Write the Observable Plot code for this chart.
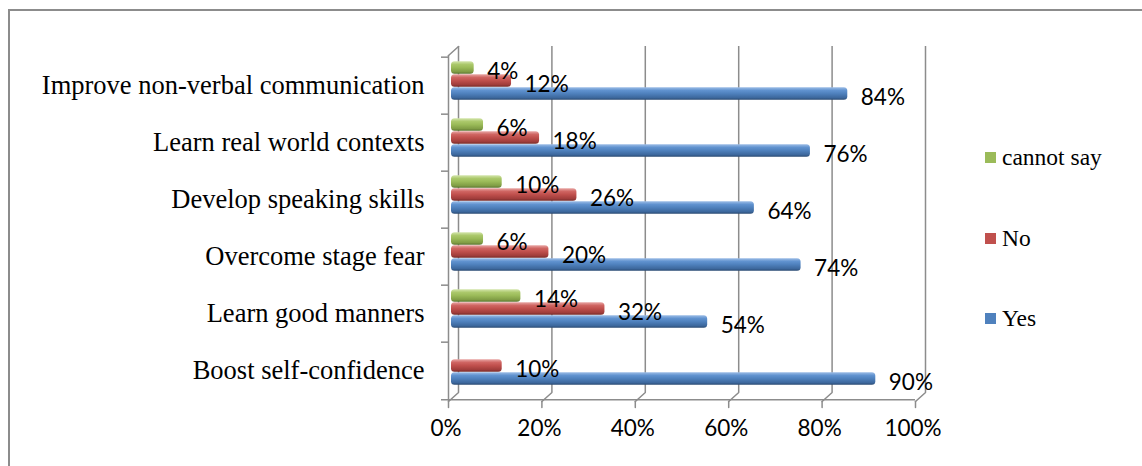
<!DOCTYPE html>
<html>
<head>
<meta charset="utf-8">
<script src="https://cdn.jsdelivr.net/npm/d3@7"></script>
<script src="https://cdn.jsdelivr.net/npm/@observablehq/plot@0.6"></script>
<style>
  html, body { margin: 0; padding: 0; background: #fff; }
  #wrap { position: relative; width: 1142px; height: 466px; overflow: hidden; }
  #border { position: absolute; left: 8px; top: 9px; width: 1200px; height: 500px;
            border-left: 2px solid #8c8c8c; border-top: 2px solid #8c8c8c; box-sizing: border-box; }
  #chart { position: absolute; left: 0; top: 0; }
  #legend { position: absolute; left: 985px; top: 0; }
</style>
</head>
<body>
<div id="wrap">
  <div id="border"></div>
  <div id="chart"></div>
  <div id="legend"></div>
</div>
<script>
const categories = [
  "Improve non-verbal communication",
  "Learn real world contexts",
  "Develop speaking skills",
  "Overcome stage fear",
  "Learn good manners",
  "Boost self-confidence"
];
const series = ["cannot say", "No", "Yes"];
const yesValues = [84, 76, 64, 74, 54, 90];
const noValues = [12, 18, 26, 20, 32, 10];
const cannotSayValues = [4, 6, 10, 6, 14, 0];
const xTicks = [0, 20, 40, 60, 80, 100];
const seriesColors = ["#9BBB59", "#C0504D", "#4F81BD"];

const valuesBySeries = {"cannot say": cannotSayValues, "No": noValues, "Yes": yesValues};
const table = categories.flatMap((c, i) => series.map(s => ({category: c, series: s, value: valuesBySeries[s][i]})));

// per-series vertical placement inside each category band (band height ~57.7px)
const half = 346 / 12;
const layout = {
  "cannot say": {top: -24.5, bottom: -11.5, label: -14, grad: "gGreen"},
  "No":         {top: -11.5, bottom: 1.5,   label: -1,  grad: "gRed"},
  "Yes":        {top: 1.5,   bottom: 14.5,  label: 12,  grad: "gBlue"}
};

const line = {draw(ctx, l) { ctx.moveTo(0, 0); ctx.lineTo(0, -l); }};
const gridColor = "#8c8c8c";
const numFont = "Lato, 'Open Sans', sans-serif";
const serifFont = "'Liberation Serif', 'Times New Roman', serif";

const marks = [];
// back wall gridlines
marks.push(Plot.ruleX(xTicks, {x: d => d, dx: 10, dy: -9, stroke: gridColor, strokeWidth: 1.5}));
// floor diagonals
marks.push(Plot.vector(xTicks, {x: d => d, frameAnchor: "bottom", rotate: 48, length: 13.5, anchor: "start", shape: line, stroke: gridColor, strokeWidth: 1.5}));
// bottom ticks
marks.push(Plot.vector(xTicks, {x: d => d, frameAnchor: "bottom", rotate: 180, length: 6, anchor: "start", shape: line, stroke: gridColor, strokeWidth: 1.5}));
// left wall front line and top diagonal
marks.push(Plot.ruleX([0], {x: d => d, stroke: gridColor, strokeWidth: 1.5}));
marks.push(Plot.vector([0], {x: d => d, frameAnchor: "top", rotate: 48, length: 13.5, anchor: "start", shape: line, stroke: gridColor, strokeWidth: 1.5}));
// left category boundary ticks
marks.push(Plot.ruleY(categories, {y: d => d, dy: -half, x1: -1.5, x2: 0, stroke: gridColor, strokeWidth: 1.5}));
// front floor line
marks.push(Plot.ruleY([categories[categories.length - 1]], {y: d => d, dy: half, x1: -1.5, x2: 100, stroke: gridColor, strokeWidth: 1.5}));

// bars
for (const s of series) {
  const L = layout[s];
  marks.push(Plot.barX(table, {
    filter: d => d.series === s && d.value > 0,
    x: "value", y: "category",
    insetTop: half + L.top, insetBottom: half - L.bottom,
    insetRight: -4, dx: 3, rx: 3.5,
    fill: `url(#${L.grad})`
  }));
}
// value labels
for (const s of series) {
  const L = layout[s];
  marks.push(Plot.text(table, {
    filter: d => d.series === s && d.value > 0,
    x: "value", y: "category", text: d => d.value + "%",
    dx: 20, dy: L.label, textAnchor: "start",
    fontFamily: numFont, fontSize: 22.5, fill: "#000"
  }));
}
// category labels
marks.push(Plot.text(categories, {
  y: d => d, text: d => d, frameAnchor: "left", textAnchor: "end", dx: -24,
  fontFamily: serifFont, fontSize: 26.5, fill: "#000"
}));
// x tick labels
marks.push(Plot.text(xTicks, {
  x: d => d, text: d => d + "%", frameAnchor: "bottom", dy: 34, dx: -2.5,
  fontFamily: numFont, fontSize: 22.5, fill: "#000"
}));

const svg = Plot.plot({
  width: 1142, height: 466,
  marginLeft: 448, marginRight: 227, marginTop: 55, marginBottom: 65,
  x: {domain: [0, 100], axis: null},
  y: {domain: categories, padding: 0, axis: null},
  style: {background: "transparent", overflow: "visible"},
  marks
});

const grads = [
  {id: "gGreen", stops: ["#d3e5ab", "#abc86b", "#9BBB59", "#7f9c44", "#5c7430"]},
  {id: "gRed",   stops: ["#e8a6a4", "#cf6562", "#C0504D", "#9f3c3a", "#742a29"]},
  {id: "gBlue",  stops: ["#9bbce6", "#6092cf", "#4F81BD", "#3c679c", "#2a4a72"]}
];
const defs = d3.select(svg).insert("defs", ":first-child");
for (const g of grads) {
  const lg = defs.append("linearGradient").attr("id", g.id).attr("x1", 0).attr("y1", 0).attr("x2", 0).attr("y2", 1);
  const offs = [0, 0.25, 0.5, 0.85, 1];
  g.stops.forEach((c, i) => lg.append("stop").attr("offset", offs[i]).attr("stop-color", c));
}
document.getElementById("chart").appendChild(svg);

// legend (top to bottom: cannot say, No, Yes)
const legendCenters = [157, 238, 318];
const legend = document.getElementById("legend");
series.forEach((s, i) => {
  const item = document.createElement("div");
  Object.assign(item.style, {
    position: "absolute", left: "0px", top: (legendCenters[i] - 15) + "px", height: "30px",
    display: "flex", alignItems: "center", whiteSpace: "nowrap",
    fontFamily: "'Liberation Serif', 'Times New Roman', serif", fontSize: "23.5px", color: "#000"
  });
  const sw = document.createElement("div");
  Object.assign(sw.style, {width: "11px", height: "11px", marginRight: "6px", background: seriesColors[i]});
  const label = document.createElement("span");
  label.textContent = s;
  label.style.fontFamily = "'Liberation Serif', 'Times New Roman', serif";
  item.appendChild(sw);
  item.appendChild(label);
  legend.appendChild(item);
});
</script>
</body>
</html>
